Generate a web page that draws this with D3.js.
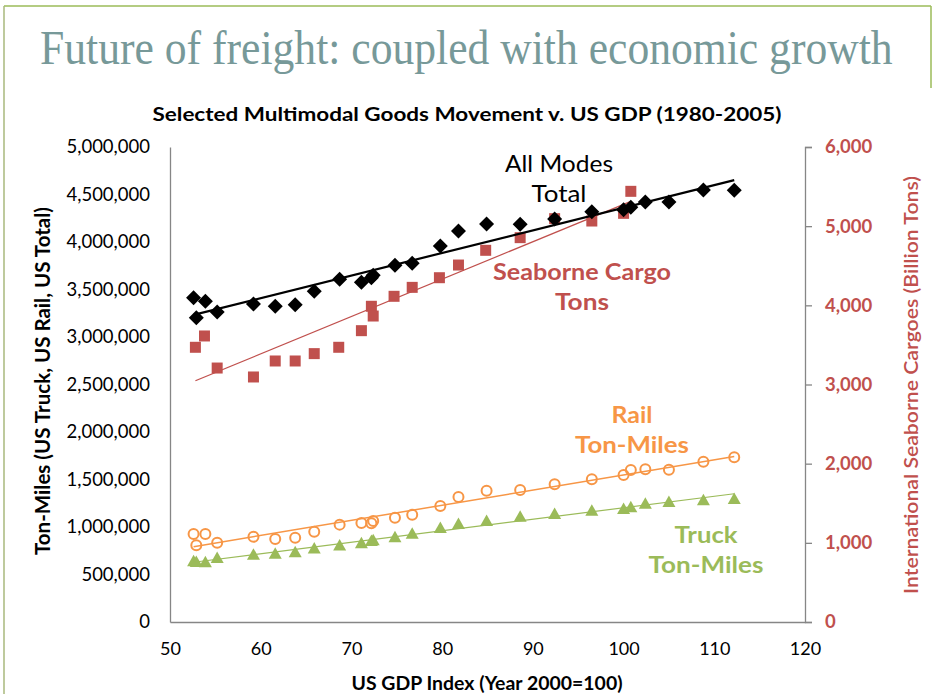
<!DOCTYPE html>
<html>
<head>
<meta charset="utf-8">
<script src="https://cdn.jsdelivr.net/npm/d3@7"></script>
<style>
  body { margin: 0; background: #fff; }
  svg { display: block; }
</style>
</head>
<body>
<div id="chart"></div>
<script>
// US GDP index (2000 = 100), 1980-2005
const gdpIndex = [52.6, 53.9, 52.9, 55.2, 59.2, 61.6, 63.8, 65.9, 68.7, 71.1, 72.4, 72.2, 74.8,
  76.7, 79.8, 81.8, 84.9, 88.6, 92.4, 96.5, 100.0, 100.8, 102.4, 105.0, 108.8, 112.2];

// ton-miles (millions), left axis
const totalTonMiles = [3414000, 3376000, 3203000, 3263000, 3347000, 3323000, 3340000, 3481000,
  3607000, 3576000, 3650000, 3625000, 3755000, 3776000, 3958000, 4116000, 4189000, 4186000,
  4242000, 4319000, 4340000, 4365000, 4421000, 4421000, 4547000, 4544000];
const railTonMiles = [926000, 926000, 807000, 835000, 898000, 874000, 888000, 951000, 1025000,
  1042000, 1063000, 1039000, 1098000, 1130000, 1221000, 1316000, 1382000, 1389000, 1449000,
  1502000, 1547000, 1600000, 1607000, 1603000, 1687000, 1734000];
const truckTonMiles = [640000, 628000, 632000, 674000, 709000, 719000, 733000, 775000, 804000,
  828000, 860000, 852000, 891000, 930000, 989000, 1032000, 1063000, 1109000, 1137000, 1172000,
  1189000, 1207000, 1246000, 1263000, 1281000, 1295000];

// seaborne cargo (right axis)
const seaGdp = [52.8, 53.8, 55.2, 59.2, 61.6, 63.8, 65.9, 68.6, 71.1, 72.2, 72.4, 74.7, 76.7,
  79.7, 81.8, 84.8, 88.6, 92.4, 96.5, 100.0, 100.8];
const seaTons = [3470, 3613, 3208, 3095, 3297, 3297, 3390, 3470, 3680, 3988, 3865, 4114, 4227,
  4349, 4509, 4695, 4855, 5095, 5065, 5162, 5440];

const xTicks = [50, 60, 70, 80, 90, 100, 110, 120];
const leftTicks = [0, 500000, 1000000, 1500000, 2000000, 2500000, 3000000, 3500000, 4000000, 4500000, 5000000];
const rightTicks = [0, 1000, 2000, 3000, 4000, 5000, 6000];

const W = 932, H = 694;
const plot = { left: 170, right: 805, top: 147, bottom: 622 };

const svg = d3.select('#chart').append('svg')
  .attr('width', W)
  .attr('height', H);

// slide frame
const green = '#9BBB59';
svg.append('line').attr('x1', 4).attr('x2', 931).attr('y1', 6).attr('y2', 6)
  .attr('stroke', green).attr('stroke-width', 1.5);
svg.append('line').attr('x1', 4).attr('x2', 4).attr('y1', 6).attr('y2', H)
  .attr('stroke', '#a9b97c').attr('stroke-width', 1.5);
svg.append('line').attr('x1', 931).attr('x2', 931).attr('y1', 6).attr('y2', 88)
  .attr('stroke', green).attr('stroke-width', 1.5);

// slide title, squeezed horizontally to the reference width
const title = svg.append('text')
  .attr('x', 0).attr('y', 0)
  .style('font-family', '"Liberation Serif", "DejaVu Serif", serif')
  .style('font-size', '49px')
  .style('fill', '#779999')
  .text('Future of freight: coupled with economic growth');
const tw = title.node().getComputedTextLength();
title.attr('transform', `translate(40,64) scale(${853 / tw},1)`);

svg.append('text')
  .attr('x', 467).attr('y', 121)
  .attr('text-anchor', 'middle')
  .attr('textLength', 629).attr('lengthAdjust', 'spacingAndGlyphs')
  .style('font-family', 'Lato, sans-serif')
  .style('font-weight', 'bold')
  .style('font-size', '19px')
  .style('fill', '#000')
  .text('Selected Multimodal Goods Movement v.  US GDP (1980-2005)');

const x = d3.scaleLinear().domain([50, 120]).range([plot.left, plot.right]);
const yL = d3.scaleLinear().domain([0, 5000000]).range([plot.bottom, plot.top]);
const yR = d3.scaleLinear().domain([0, 6000]).range([plot.bottom, plot.top]);

const axisColor = '#868686';
const fmt = d3.format(',');

// left axis
const gL = svg.append('g')
  .attr('transform', `translate(${plot.left},0)`)
  .call(d3.axisLeft(yL).tickValues(leftTicks).tickFormat(fmt).tickSize(0).tickPadding(20));
gL.select('.domain').attr('stroke', axisColor).attr('stroke-width', 1.3);
gL.selectAll('text')
  .style('font-family', 'Lato, sans-serif').style('font-size', '18.5px').style('fill', '#000');

// right axis
const gR = svg.append('g')
  .attr('transform', `translate(${plot.right},0)`)
  .call(d3.axisRight(yR).tickValues(rightTicks).tickFormat(fmt).tickSize(7).tickPadding(13));
gR.select('.domain').attr('stroke', axisColor).attr('stroke-width', 1.3);
gR.selectAll('line').attr('stroke', axisColor).attr('stroke-width', 1.3);
gR.selectAll('text')
  .style('font-family', 'Lato, sans-serif').style('font-weight', 'bold')
  .style('font-size', '18.5px').style('fill', '#C0504D');

// bottom axis
const gB = svg.append('g')
  .attr('transform', `translate(0,${plot.bottom})`)
  .call(d3.axisBottom(x).tickValues(xTicks).tickSize(0).tickPadding(20));
gB.select('.domain').attr('stroke', axisColor).attr('stroke-width', 1.3);
gB.selectAll('text')
  .style('font-family', 'Lato, sans-serif').style('font-size', '18px').style('fill', '#000');

// axis titles
svg.append('text')
  .attr('transform', 'translate(50,381) rotate(-90)')
  .attr('text-anchor', 'middle')
  .attr('textLength', 348).attr('lengthAdjust', 'spacingAndGlyphs')
  .style('font-family', 'Lato, sans-serif').style('font-weight', 'bold')
  .style('font-size', '20px').style('fill', '#000')
  .text('Ton-Miles (US Truck, US Rail, US Total)');

svg.append('text')
  .attr('transform', 'translate(918,385) rotate(-90)')
  .attr('text-anchor', 'middle')
  .attr('textLength', 418).attr('lengthAdjust', 'spacingAndGlyphs')
  .style('font-family', 'Lato, sans-serif').style('font-weight', '600')
  .style('font-size', '20px').style('fill', '#C0504D')
  .text('International Seaborne Cargoes (Billion Tons)');

svg.append('text')
  .attr('x', 487).attr('y', 690)
  .attr('text-anchor', 'middle')
  .attr('textLength', 271).attr('lengthAdjust', 'spacingAndGlyphs')
  .style('font-family', 'Lato, sans-serif').style('font-weight', 'bold')
  .style('font-size', '18px').style('fill', '#000')
  .text('US GDP Index (Year 2000=100)');

// least squares trend line
function trend(xs, ys) {
  const mx = d3.mean(xs), my = d3.mean(ys);
  let sxy = 0, sxx = 0;
  xs.forEach((v, i) => { sxy += (v - mx) * (ys[i] - my); sxx += (v - mx) * (v - mx); });
  const b = sxy / sxx, a = my - b * mx;
  const [x0, x1] = d3.extent(xs);
  return [[x0, a + b * x0], [x1, a + b * x1]];
}

const series = [
  { xs: gdpIndex, ys: truckTonMiles, y: yL, color: '#9BBB59', lw: 1.2, shape: 'triangle' },
  { xs: gdpIndex, ys: railTonMiles, y: yL, color: '#F79646', lw: 1.5, shape: 'circle' },
  { xs: seaGdp, ys: seaTons, y: yR, color: '#C0504D', lw: 1.2, shape: 'square' },
  { xs: gdpIndex, ys: totalTonMiles, y: yL, color: '#000', lw: 2.2, shape: 'diamond' },
];

const shapes = {
  diamond: 'M0,-7.5L7.5,0L0,7.5L-7.5,0Z',
  square: 'M-5.5,-5.5H5.5V5.5H-5.5Z',
  triangle: 'M0,-6.5L6.5,5L-6.5,5Z',
};

series.forEach(s => {
  const pts = s.xs.map((v, i) => [v, s.ys[i]]);
  const g = svg.append('g');
  if (s.shape === 'circle') {
    g.selectAll('circle').data(pts).join('circle')
      .attr('cx', d => x(d[0])).attr('cy', d => s.y(d[1])).attr('r', 5)
      .attr('fill', 'none').attr('stroke', s.color).attr('stroke-width', 2);
  } else {
    g.selectAll('path').data(pts).join('path')
      .attr('d', shapes[s.shape])
      .attr('transform', d => `translate(${x(d[0])},${s.y(d[1])})`)
      .attr('fill', s.color);
  }
  const t = trend(s.xs, s.ys);
  svg.append('line')
    .attr('x1', x(t[0][0])).attr('y1', s.y(t[0][1]))
    .attr('x2', x(t[1][0])).attr('y2', s.y(t[1][1]))
    .attr('stroke', s.color).attr('stroke-width', s.lw);
});

// series labels
const labels = [
  { lines: ['All Modes', 'Total'], x: 559, y: [172, 202], color: '#000', weight: 'normal', len: [108, 55] },
  { lines: ['Seaborne Cargo', 'Tons'], x: 582, y: [280, 310], color: '#C0504D', weight: 'bold', len: [178, 54] },
  { lines: ['Rail', 'Ton-Miles'], x: 632, y: [423, 453], color: '#F79646', weight: 'bold', len: [41, 114] },
  { lines: ['Truck', 'Ton-Miles'], x: 706, y: [543, 573], color: '#9BBB59', weight: 'bold', len: [63, 115] },
];
labels.forEach(l => {
  l.lines.forEach((txt, i) => {
    svg.append('text')
      .attr('x', l.x).attr('y', l.y[i])
      .attr('text-anchor', 'middle')
      .attr('textLength', l.len[i]).attr('lengthAdjust', 'spacingAndGlyphs')
      .style('font-family', 'Lato, sans-serif')
      .style('font-weight', l.weight)
      .style('font-size', '23px')
      .style('fill', l.color)
      .text(txt);
  });
});
</script>
</body>
</html>
